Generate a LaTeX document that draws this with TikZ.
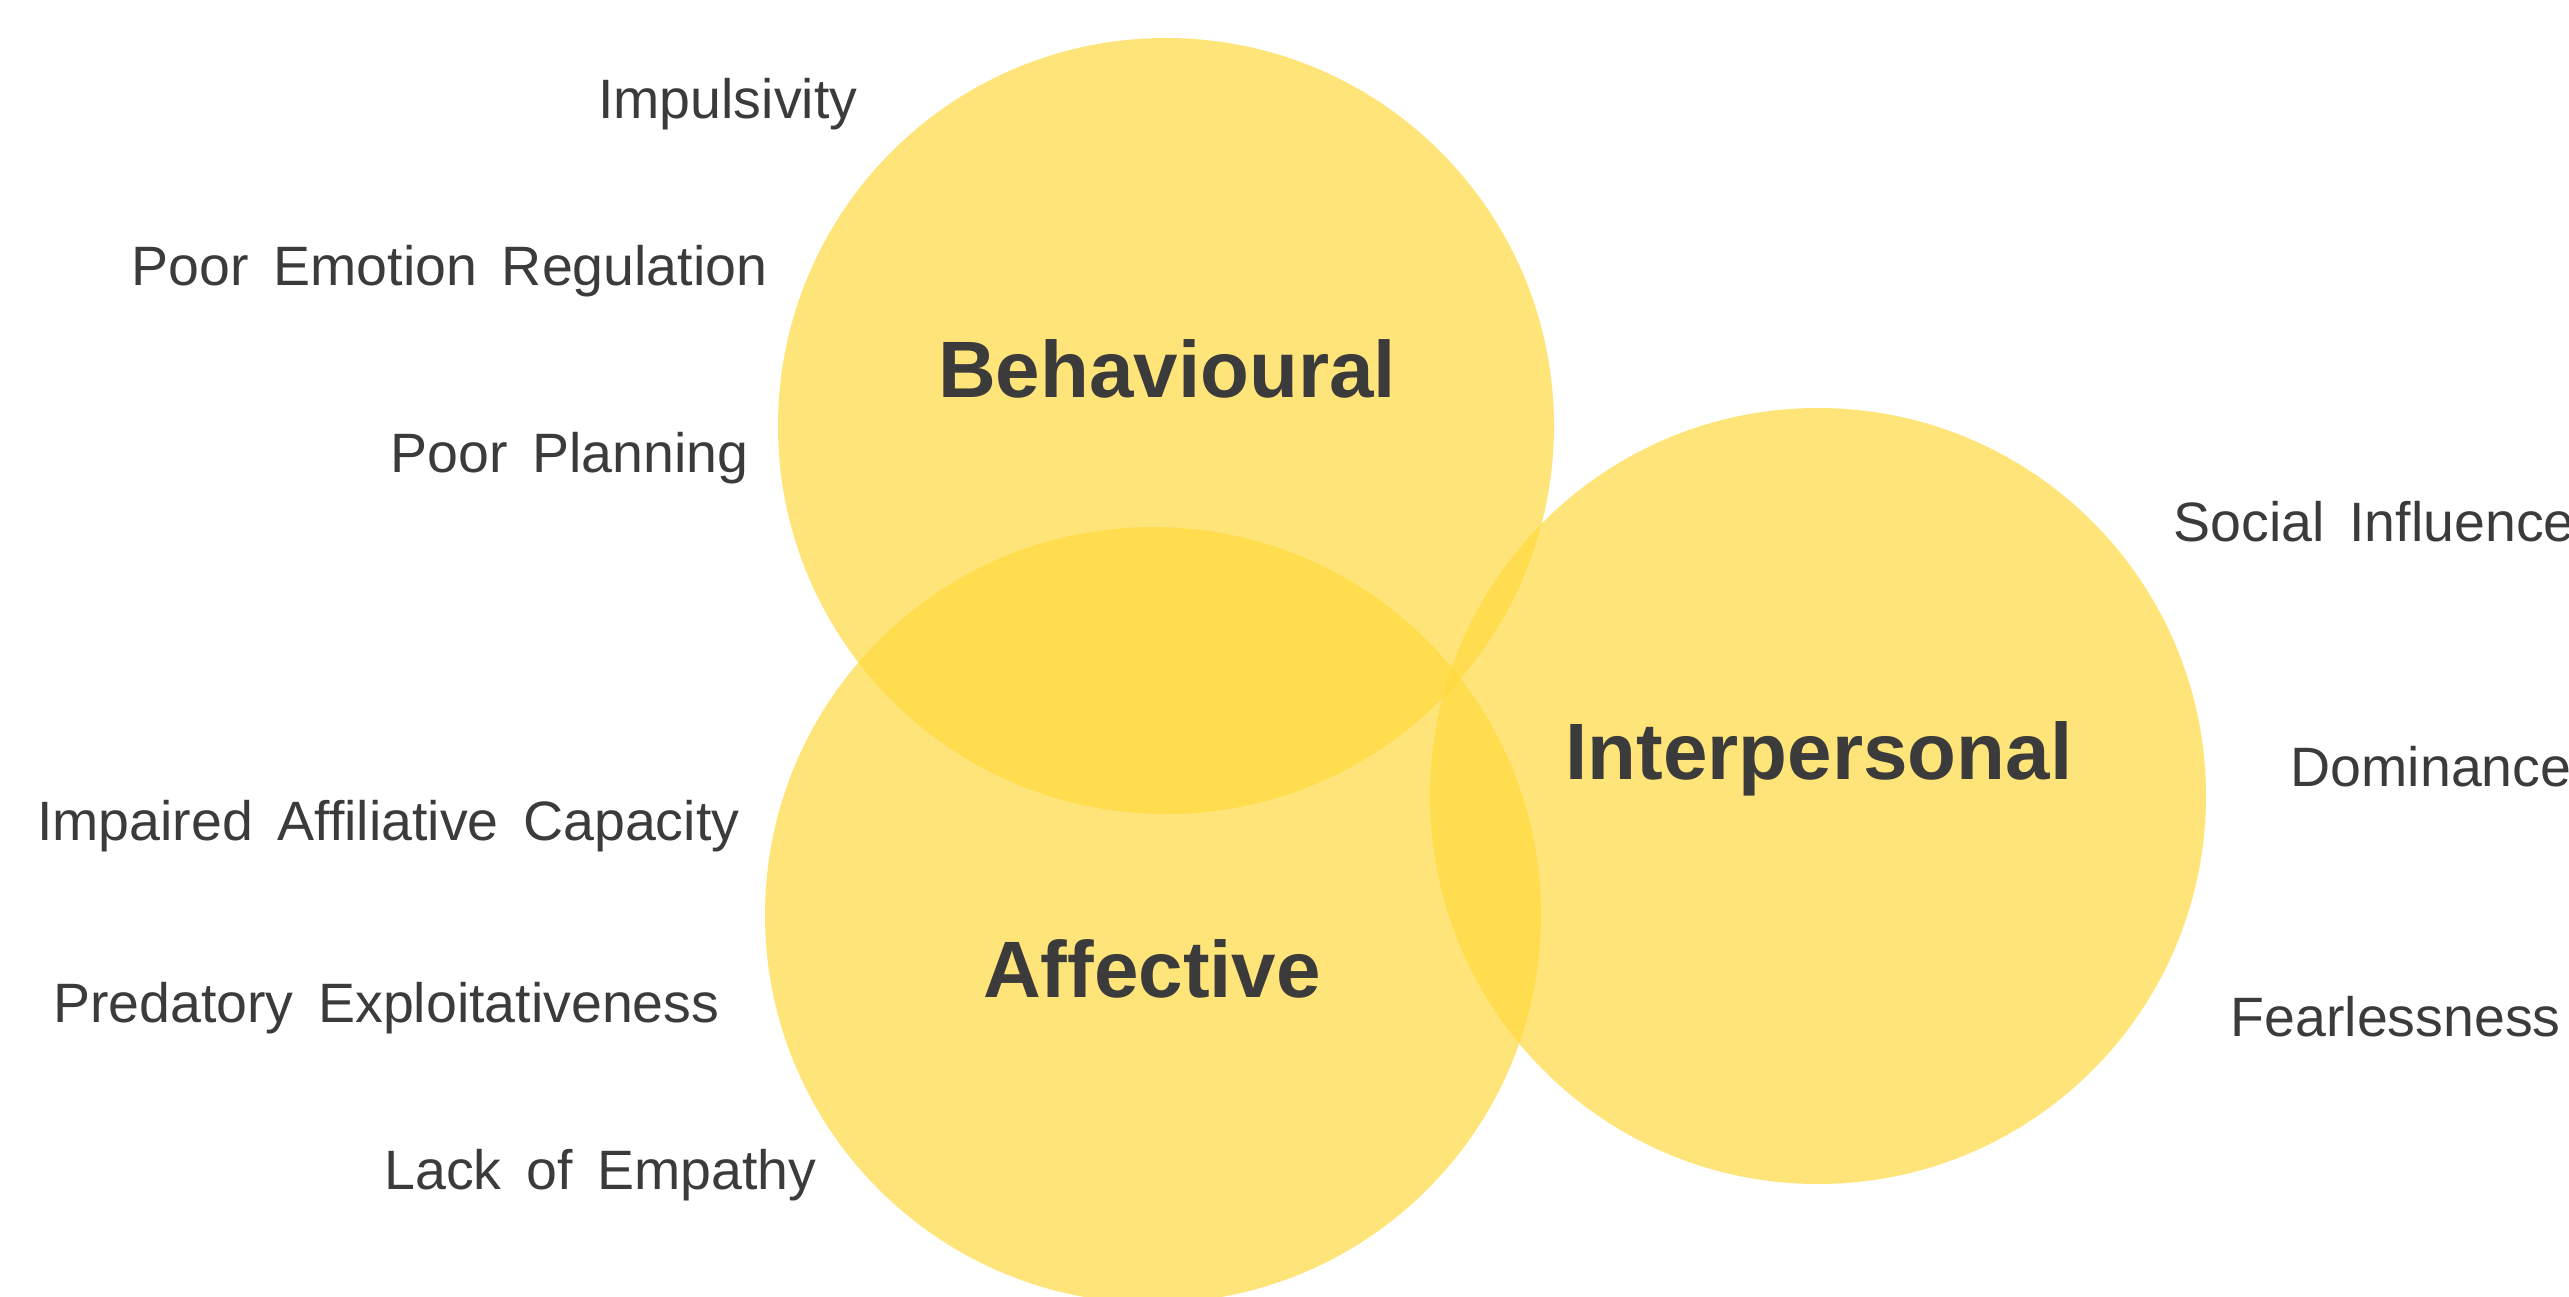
\documentclass[tikz,border=0pt]{standalone}
\usepackage{fontspec}
\setmainfont{Liberation Sans}
\newfontfamily\traitfont[WordSpace=1.6]{Liberation Sans}
\definecolor{venn}{RGB}{255,217,61}
\definecolor{ink}{RGB}{59,59,59}

\begin{document}
\begin{tikzpicture}[y=-0.3pt, x=0.3pt,
  set/.style={circle, fill=venn, fill opacity=0.69, minimum size=232.8pt, inner sep=0pt},
  head/.style={inner sep=0pt, anchor=base, text=ink, font=\fontsize{24pt}{29pt}\selectfont\bfseries},
  trait/.style={inner sep=0pt, text=ink, font=\traitfont\fontsize{16.65pt}{20pt}\selectfont}]
\useasboundingbox (0,0) rectangle (2569,1297);
\begin{scope}
 % insiemi
  \node (beh) at (1166, 426) [set] {};
  \node (aff) at (1153, 915) [set] {};
  \node (int) at (1818, 796) [set] {};
 % titoli
  \node (behl) at (1167, 397) [head] {Behavioural};
  \node (affl) at (1152, 997) [head] {Affective};
  \node (intl) at (1819, 779) [head] {Interpersonal};
 % tratti
  \node (imp) at (858, 118) [trait, anchor=base east] {Impulsivity};
  \node (emo) at (768, 285) [trait, anchor=base east] {Poor Emotion Regulation};
  \node (pla) at (749, 472) [trait, anchor=base east] {Poor Planning};
  \node (cap) at (740, 840) [trait, anchor=base east] {Impaired Affiliative Capacity};
  \node (exp) at (720, 1022) [trait, anchor=base east] {Predatory Exploitativeness};
  \node (emp) at (817, 1189) [trait, anchor=base east] {Lack of Empathy};
  \node (soc) at (2173, 541) [trait, anchor=base west] {Social Influence};
  \node (dom) at (2290, 786) [trait, anchor=base west] {Dominance};
  \node (fea) at (2230, 1036) [trait, anchor=base west] {Fearlessness};
\end{scope}
\end{tikzpicture}
\end{document}
